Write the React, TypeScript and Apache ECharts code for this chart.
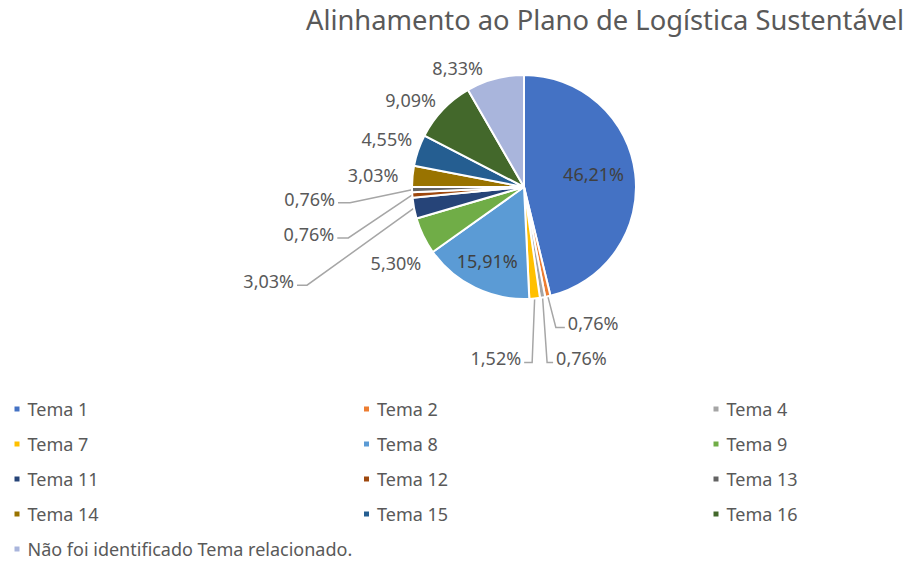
import React, { useEffect, useRef } from "react";
import * as echarts from "echarts";

const categories = [
  "Tema 1", "Tema 2", "Tema 4", "Tema 7", "Tema 8", "Tema 9", "Tema 11",
  "Tema 12", "Tema 13", "Tema 14", "Tema 15", "Tema 16",
  "Não foi identificado Tema relacionado.",
];
const percents = [46.21, 0.76, 0.76, 1.52, 15.91, 5.30, 3.03, 0.76, 0.76, 3.03, 4.55, 9.09, 8.33];
const colors = [
  "#4472C4", "#ED7D31", "#A5A5A5", "#FFC000", "#5B9BD5", "#70AD47", "#264478",
  "#9E480E", "#636363", "#997300", "#255E91", "#43682B", "#A9B5DC",
];
const legendCols = [
  ["Tema 1", "Tema 7", "Tema 11", "Tema 14", "Não foi identificado Tema relacionado."],
  ["Tema 2", "Tema 8", "Tema 12", "Tema 15"],
  ["Tema 4", "Tema 9", "Tema 13", "Tema 16"],
];
const title = "Alinhamento ao Plano de Logística Sustentável";

// Label placement (Excel "best fit" imitation), offsets relative to the slice edge point
type Place =
  | { kind: "inside"; dx: number; dy: number }
  | { kind: "free"; dx: number; dy: number; align: "left" | "right" }
  | { kind: "leader"; ex: number; ey: number; run: number };
const placement: Record<string, Place> = {
  "Tema 1": { kind: "inside", dx: 11, dy: -6 },
  "Tema 2": { kind: "leader", ex: 8, ey: 31, run: 9 },
  "Tema 4": { kind: "leader", ex: 4.5, ey: 65, run: 6 },
  "Tema 7": { kind: "leader", ex: -2.5, ey: 64, run: -8 },
  "Tema 8": { kind: "inside", dx: -11, dy: 21 },
  "Tema 9": { kind: "free", dx: -2, dy: 27, align: "right" },
  "Tema 11": { kind: "leader", ex: -107, ey: 77, run: -10 },
  "Tema 12": { kind: "leader", ex: -64, ey: 43, run: -11 },
  "Tema 13": { kind: "leader", ex: -62, ey: 13, run: -12 },
  "Tema 14": { kind: "free", dx: -14, dy: -1, align: "right" },
  "Tema 15": { kind: "free", dx: -6, dy: -11, align: "right" },
  "Tema 16": { kind: "free", dx: -7, dy: -10, align: "right" },
  "Não foi identificado Tema relacionado.": { kind: "free", dx: -12, dy: -11, align: "right" },
};

const FONT = "'Noto Sans', sans-serif";

export default function App() {
  const ref = useRef<HTMLDivElement>(null);
  useEffect(() => {
    if (!ref.current) return;
    const chart = echarts.init(ref.current, undefined, { renderer: "svg" });
    const data = categories.map((name, i) => {
      const p = placement[name];
      const inside = p.kind === "inside";
      return {
        name,
        value: percents[i],
        itemStyle: { color: colors[i] },
        label: inside
          ? { position: "inside", color: "#404040" }
          : { position: "outside", color: "#595959" },
        labelLine: inside
          ? { show: false }
          : {
              show: true,
              length: 10,
              length2: 5,
              lineStyle: { opacity: p.kind === "leader" ? 1 : 0 },
            },
      };
    });
    chart.setOption({
      animation: false,
      backgroundColor: "#ffffff",
      title: {
        text: title,
        right: 1,
        top: 1,
        textStyle: { fontFamily: FONT, fontSize: 27.3, fontWeight: "normal", color: "#595959" },
      },
      legend: legendCols.map((col, i) => ({
        orient: "vertical",
        left: 12.5 + i * 349.5,
        top: 400,
        height: 200,
        padding: 0,
        data: col,
        icon: "rect",
        itemWidth: 7,
        itemHeight: 7,
        itemGap: 17,
        selectedMode: false,
        textStyle: { fontFamily: FONT, fontSize: 18, color: "#595959", lineHeight: 18, padding: [0, 0, 0, 2] },
      })),
      series: [
        {
          type: "pie",
          center: [524, 187],
          radius: 112,
          startAngle: 90,
          clockwise: true,
          avoidLabelOverlap: false,
          minShowLabelAngle: 0,
          itemStyle: { borderColor: "#ffffff", borderWidth: 2 },
          label: {
            fontFamily: FONT,
            fontSize: 18,
            formatter: (p: any) => p.value.toFixed(2).replace(".", ",") + "%",
          },
          labelLine: { lineStyle: { color: "#A6A6A6", width: 1.5 }, smooth: false },
          labelLayout: (params: any) => {
            const name = categories[params.dataIndex];
            const p = placement[name];
            const r = params.labelRect;
            if (p.kind === "inside") {
              return {
                x: r.x + r.width / 2 + p.dx,
                y: r.y + r.height / 2 + p.dy,
                align: "center",
                verticalAlign: "middle",
              };
            }
            const pts = params.labelLinePoints;
            if (!pts) return {};
            const p0 = pts[0];
            if (p.kind === "free") {
              return {
                x: p0[0] + p.dx,
                y: p0[1] + p.dy,
                align: p.align,
                verticalAlign: "middle",
                labelLinePoints: [[p0[0], p0[1]], [p0[0], p0[1]], [p0[0], p0[1]]],
              };
            }
            const e = [p0[0] + p.ex, p0[1] + p.ey];
            const end = [e[0] + p.run, e[1]];
            const left = p.run < 0;
            return {
              x: end[0] + (left ? -3 : 3),
              y: end[1] - 4,
              align: left ? "right" : "left",
              verticalAlign: "middle",
              labelLinePoints: [[p0[0], p0[1]], e, end],
            };
          },
          emphasis: { disabled: true },
          data,
        },
      ],
    });
    return () => chart.dispose();
  }, []);
  return (
    <div
      ref={ref}
      style={{ position: "fixed", left: 0, top: 0, width: 910, height: 563 }}
    />
  );
}
